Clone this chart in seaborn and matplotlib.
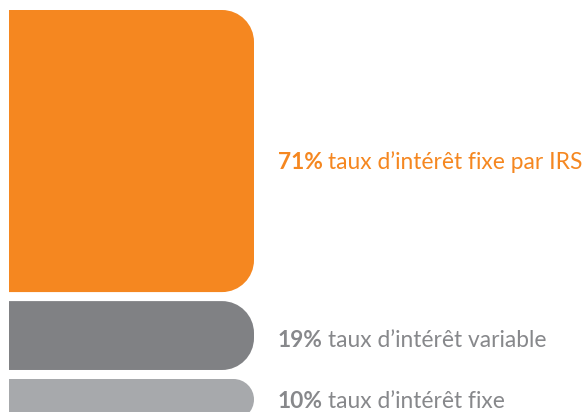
import numpy as np
import pandas as pd
import matplotlib
matplotlib.use("Agg")
import matplotlib.pyplot as plt
import seaborn as sns
from matplotlib.path import Path
from matplotlib.patches import PathPatch

# ---- data ----
categories = ["taux d’intérêt fixe par IRS", "taux d’intérêt variable", "taux d’intérêt fixe"]
values = [71, 19, 10]
pct_labels = ["71%", "19%", "10%"]
colors = ["#F58720", "#808184", "#A7A9AC"]
text_colors = ["#F58720", "#87888B", "#87888B"]

# ---- layout constants ----
W, H, DPI = 5.86, 4.12, 100
GAP = 2.2            # gap between segments (data units)
RADIUS_PX = 32       # corner radius in pixels
LABEL_Y = [61.2, 17.8, 2.9]
FONT = ["Lato", "DejaVu Sans"]
FS = 16.4

sns.set_theme(style="white")
plt.rcParams["font.family"] = FONT

tops = np.cumsum(values[::-1])[::-1]          # 100, 29, 10
bottoms = tops - np.array(values)              # 29, 10, 0
df = pd.DataFrame({"grp": ["dette"] * 3, "top": tops, "cat": categories})

fig = plt.figure(figsize=(W, H), dpi=DPI)
ax = fig.add_axes([0, 0, 1, 1])
sns.barplot(data=df, x="grp", y="top", hue="cat", hue_order=categories,
            palette=colors, dodge=False, legend=False, ax=ax, saturation=1)

# pixel-based scales
xpx = 245 / 0.8
ypx = 4.1
xl = -0.4 - 9 / xpx
ax.set_xlim(xl, xl + W * DPI / xpx)
yb = 8 / ypx
ax.set_ylim(yb, yb + H * DPI / ypx)
ax.axis("off")

k = 0.5523
patches = list(ax.patches)
for i, p in enumerate(patches):
    x0 = p.get_x()
    x1 = x0 + p.get_width()
    y1 = p.get_y() + p.get_height()
    y0 = bottoms[i] + (GAP if i < len(values) - 1 else 0)
    p.remove()
    h_px = (y1 - y0) * ypx
    r = min(RADIUS_PX, h_px / 2)
    rx, ry = r / xpx, r / ypx
    verts = [
        (x0, y0), (x1 - rx, y0),
        (x1 - rx + k * rx, y0), (x1, y0 + ry - k * ry), (x1, y0 + ry),
        (x1, y1 - ry),
        (x1, y1 - ry + k * ry), (x1 - rx + k * rx, y1), (x1 - rx, y1),
        (x0, y1), (x0, y0),
    ]
    codes = [Path.MOVETO, Path.LINETO,
             Path.CURVE4, Path.CURVE4, Path.CURVE4,
             Path.LINETO,
             Path.CURVE4, Path.CURVE4, Path.CURVE4,
             Path.LINETO, Path.CLOSEPOLY]
    ax.add_patch(PathPatch(Path(verts, codes), facecolor=colors[i],
                           edgecolor="none", lw=0))
    bar_right = x1

fig.canvas.draw()
renderer = fig.canvas.get_renderer()
for i in range(len(values)):
    t = ax.annotate(pct_labels[i], xy=(bar_right, LABEL_Y[i]),
                    xytext=(24 * 72 / DPI, 0), textcoords="offset points",
                    ha="left", va="baseline", fontsize=FS, fontweight="bold",
                    color=text_colors[i])
    bb = t.get_window_extent(renderer)
    ax.annotate(categories[i], xy=(bar_right, LABEL_Y[i]),
                xytext=((bb.x1 - ax.transData.transform((bar_right, 0))[0] + 5) * 72 / DPI, 0),
                textcoords="offset points", ha="left", va="baseline",
                fontsize=FS, color=text_colors[i])

fig.savefig("out.png", dpi=DPI)
